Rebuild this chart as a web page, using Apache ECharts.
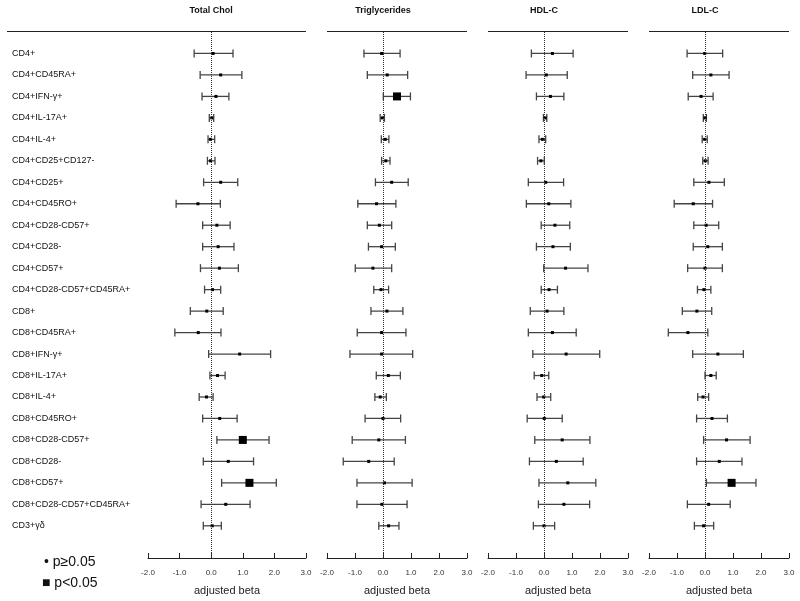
<!DOCTYPE html>
<html>
<head>
<meta charset="utf-8">
<script src="https://cdn.jsdelivr.net/npm/echarts@6/dist/echarts.min.js"></script>
<style>
  html, body { margin: 0; padding: 0; background: #fff; }
  #chart { width: 800px; height: 601px; }
</style>
</head>
<body>
<div id="chart"></div>
<script>
// 细胞亚群
const cells = [
  "CD4+", "CD4+CD45RA+", "CD4+IFN-γ+", "CD4+IL-17A+", "CD4+IL-4+",
  "CD4+CD25+CD127-", "CD4+CD25+", "CD4+CD45RO+", "CD4+CD28-CD57+", "CD4+CD28-",
  "CD4+CD57+", "CD4+CD28-CD57+CD45RA+", "CD8+", "CD8+CD45RA+", "CD8+IFN-γ+",
  "CD8+IL-17A+", "CD8+IL-4+", "CD8+CD45RO+", "CD8+CD28-CD57+", "CD8+CD28-",
  "CD8+CD57+", "CD8+CD28-CD57+CD45RA+", "CD3+γδ"
];

// Total Chol
const tcEst = [0.06, 0.30, 0.15, 0.02, -0.02, -0.02, 0.30, -0.42, 0.18, 0.22, 0.26, 0.04, -0.14, -0.41, 0.90, 0.20, -0.15, 0.27, 1.00, 0.54, 1.21, 0.46, 0.03];
const tcLo = [-0.54, -0.35, -0.29, -0.06, -0.10, -0.12, -0.24, -1.11, -0.27, -0.27, -0.34, -0.21, -0.66, -1.15, -0.08, -0.04, -0.38, -0.27, 0.18, -0.25, 0.33, -0.32, -0.25];
const tcHi = [0.69, 0.97, 0.56, 0.08, 0.11, 0.12, 0.84, 0.29, 0.60, 0.72, 0.86, 0.30, 0.38, 0.31, 1.88, 0.44, 0.06, 0.82, 1.83, 1.34, 2.06, 1.23, 0.32];
const tcSig = [18, 20];

// Triglycerides
const tgEst = [-0.05, 0.15, 0.50, -0.02, 0.08, 0.10, 0.31, -0.23, -0.13, -0.05, -0.36, -0.07, 0.14, -0.05, -0.05, 0.19, -0.10, 0.00, -0.15, -0.51, 0.05, -0.04, 0.20];
const tgLo = [-0.68, -0.56, 0.01, -0.10, -0.06, -0.05, -0.27, -0.90, -0.56, -0.52, -0.99, -0.33, -0.43, -0.92, -1.18, -0.24, -0.29, -0.64, -1.10, -1.42, -0.93, -0.93, -0.15];
const tgHi = [0.61, 0.88, 0.98, 0.05, 0.21, 0.25, 0.90, 0.46, 0.31, 0.44, 0.31, 0.20, 0.71, 0.82, 1.06, 0.62, 0.12, 0.63, 0.80, 0.40, 1.04, 0.86, 0.57];
const tgSig = [2];

// HDL-C
const hdlEst = [0.30, 0.08, 0.23, 0.04, -0.06, -0.11, 0.06, 0.17, 0.39, 0.32, 0.77, 0.18, 0.11, 0.30, 0.79, -0.08, -0.01, 0.01, 0.65, 0.44, 0.85, 0.71, 0.00];
const hdlLo = [-0.45, -0.64, -0.27, -0.02, -0.18, -0.23, -0.56, -0.63, -0.10, -0.27, -0.01, -0.10, -0.49, -0.56, -0.40, -0.35, -0.25, -0.60, -0.33, -0.52, -0.18, -0.20, -0.38];
const hdlHi = [1.04, 0.83, 0.71, 0.10, 0.06, 0.01, 0.70, 0.96, 0.92, 0.94, 1.57, 0.48, 0.71, 1.15, 1.99, 0.17, 0.24, 0.65, 1.64, 1.40, 1.85, 1.63, 0.38];
const hdlSig = [];

// LDL-C
const ldlEst = [-0.01, 0.21, -0.14, 0.00, -0.01, 0.01, 0.14, -0.42, 0.04, 0.10, 0.00, -0.04, -0.29, -0.61, 0.46, 0.21, -0.07, 0.25, 0.77, 0.51, 0.95, 0.13, -0.05];
const ldlLo = [-0.64, -0.44, -0.60, -0.06, -0.10, -0.08, -0.40, -1.10, -0.40, -0.42, -0.62, -0.27, -0.81, -1.31, -0.44, 0.00, -0.26, -0.30, -0.05, -0.30, 0.05, -0.63, -0.38];
const ldlHi = [0.63, 0.86, 0.29, 0.05, 0.08, 0.11, 0.69, 0.27, 0.49, 0.62, 0.62, 0.21, 0.24, 0.10, 1.37, 0.40, 0.13, 0.80, 1.61, 1.32, 1.82, 0.90, 0.31];
const ldlSig = [20];

const xTicks = [-2, -1, 0, 1, 2, 3];

const panels = [
  { title: "Total Chol", est: tcEst, lo: tcLo, hi: tcHi, sig: tcSig, left: 148, width: 158, lineLeft: 7 },
  { title: "Triglycerides", est: tgEst, lo: tgLo, hi: tgHi, sig: tgSig, left: 327, width: 140, lineLeft: 327 },
  { title: "HDL-C", est: hdlEst, lo: hdlLo, hi: hdlHi, sig: hdlSig, left: 488, width: 140, lineLeft: 488 },
  { title: "LDL-C", est: ldlEst, lo: ldlLo, hi: ldlHi, sig: ldlSig, left: 649, width: 140, lineLeft: 649 }
];

const FONT = "Liberation Sans, Arial, sans-serif";
const TOP = 32;
const HEIGHT = 526;

let grids = [], xAxes = [], yAxes = [], series = [], graphics = [];

panels.forEach(function (p, k) {
  grids.push({ left: p.left, top: TOP, width: p.width, height: HEIGHT });

  xAxes.push({
    gridIndex: k,
    type: "value",
    position: "bottom",
    min: xTicks[0],
    max: xTicks[xTicks.length - 1],
    interval: 1,
    name: "adjusted beta",
    nameLocation: "middle",
    nameGap: 27,
    nameTextStyle: { fontFamily: FONT, fontSize: 11, color: "#222" },
    axisLine: { show: true, onZero: false, lineStyle: { color: "#222", width: 1 } },
    axisTick: { show: true, length: 5, inside: true, lineStyle: { color: "#222" } },
    axisLabel: {
      fontFamily: FONT, fontSize: 8, color: "#333", margin: 11,
      formatter: function (v) { return v.toFixed(1); }
    },
    splitLine: { show: false }
  });

  yAxes.push({
    gridIndex: k,
    type: "value",
    inverse: true,
    min: -1,
    max: 23.5,
    interval: 1,
    axisLine: { show: false },
    axisTick: { show: false },
    splitLine: { show: false },
    axisLabel: {
      show: k === 0,
      align: "left",
      margin: 136,
      fontFamily: FONT, fontSize: 9, color: "#111",
      formatter: function (v) { return cells[v] || ""; }
    }
  });

  // 误差线
  let bars = cells.map(function (c, i) { return [p.lo[i], i, p.hi[i]]; });
  series.push({
    type: "custom",
    xAxisIndex: k,
    yAxisIndex: k,
    data: bars,
    encode: { x: [0, 2], y: 1 },
    silent: true,
    renderItem: function (params, api) {
      let row = api.value(1);
      let a = api.coord([api.value(0), row]);
      let b = api.coord([api.value(2), row]);
      let cap = 4;
      let st = { stroke: "#444", lineWidth: 1.3 };
      return {
        type: "group",
        children: [
          { type: "line", shape: { x1: a[0], y1: a[1], x2: b[0], y2: b[1] }, style: st },
          { type: "line", shape: { x1: a[0], y1: a[1] - cap, x2: a[0], y2: a[1] + cap }, style: st },
          { type: "line", shape: { x1: b[0], y1: b[1] - cap, x2: b[0], y2: b[1] + cap }, style: st }
        ]
      };
    },
    z: 2
  });

  // 点估计
  series.push({
    type: "scatter",
    xAxisIndex: k,
    yAxisIndex: k,
    symbol: "rect",
    data: cells.map(function (c, i) { return [p.est[i], i]; }),
    symbolSize: function (val, params) {
      return p.sig.indexOf(params.dataIndex) >= 0 ? 8 : 3;
    },
    itemStyle: { color: "#000", opacity: 1 },
    z: 3,
    markLine: {
      silent: true,
      symbol: "none",
      label: { show: false },
      lineStyle: { type: "dotted", color: "#333", width: 1 },
      data: [{ xAxis: 0 }]
    }
  });

  // 标题与顶部横线
  graphics.push({
    type: "text",
    x: p.left + p.width * 2 / 5,
    y: 11,
    style: { text: p.title, font: "bold 9px " + FONT, fill: "#111", textAlign: "center", textVerticalAlign: "middle" }
  });
  graphics.push({
    type: "line",
    shape: { x1: p.lineLeft, y1: 31.5, x2: p.left + p.width, y2: 31.5 },
    style: { stroke: "#222", lineWidth: 1 }
  });
});

// 图例
graphics.push({
  type: "text",
  x: 44, y: 562,
  style: { text: "• p≥0.05", font: "14px " + FONT, fill: "#111", textVerticalAlign: "middle" }
});
graphics.push({
  type: "text",
  x: 42, y: 583,
  style: { text: "■ p<0.05", font: "14px " + FONT, fill: "#111", textVerticalAlign: "middle" }
});

let chart = echarts.init(document.getElementById("chart"));
chart.setOption({
  animation: false,
  backgroundColor: "#fff",
  grid: grids,
  xAxis: xAxes,
  yAxis: yAxes,
  series: series,
  graphic: { elements: graphics }
});
</script>
</body>
</html>
